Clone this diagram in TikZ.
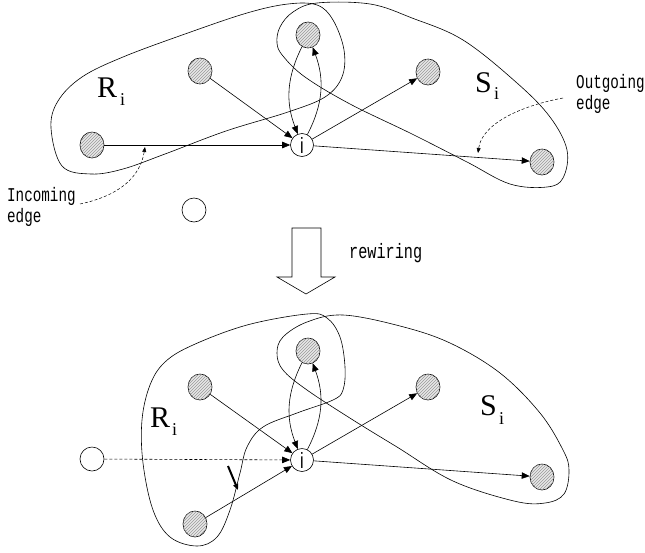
\documentclass[tikz,border=0pt]{standalone}
\usepackage{fontspec}
\setmainfont{Liberation Serif}
\newfontfamily\monof{Liberation Mono}
\newfontfamily\sansf{Liberation Sans}
\newcommand{\tallt}[1]{\scalebox{0.95}[1.3]{#1}}
\usetikzlibrary{arrows.meta,shapes.geometric,patterns}
\begin{document}
\begin{tikzpicture}[x=1pt,y=-1pt,
  hat/.style={ellipse,draw,line width=0.6pt,minimum width=24pt,minimum height=26pt,inner sep=0pt,
    fill=gray!18,postaction={pattern=north east lines,pattern color=gray!80}},
  emptynode/.style={circle,draw,line width=0.6pt,minimum size=24pt,inner sep=0pt},
  inode/.style={circle,draw,line width=0.6pt,minimum size=23pt,inner sep=0pt,font=\sansf\fontsize{17}{17}\selectfont},
  edg/.style={-{Triangle[length=8pt,width=6.5pt]},line width=0.6pt},
  blob/.style={line width=0.6pt,smooth cycle,tension=0.6},
  big/.style={inner sep=0pt,anchor=base west,font=\fontsize{30}{30}\selectfont},
  sub/.style={inner sep=0pt,anchor=base west,font=\fontsize{18}{18}\selectfont},
  mono/.style={inner sep=0pt,align=left,font=\monof\fontsize{15}{21}\selectfont},
  pointer/.style={-{Triangle[length=5pt,width=4pt]},line width=0.5pt,dash pattern=on 3pt off 2pt}
]
\useasboundingbox (0,0) rectangle (645,552);

% ---------- top graph ----------
\draw[blob] plot coordinates {(51,128) (58,101) (82,77) (123,57) (185,34) (247,13) (288,4) (317,5) (333,20) (344,50) (342,77) (325,97) (288,112) (226,131) (165,154) (123,169) (91,174) (62,166)};
\draw[blob] plot coordinates {(317,3) (293,12) (280,27) (277,43) (283,56) (305,77) (350,104) (412,134) (467,162) (510,184) (547,187) (563,178) (567,150) (550,117) (517,83) (463,40) (412,18) (370,4)};

\node[hat] (L1) at (92,145) {};
\node[hat] (ML1) at (200,71) {};
\node[hat] (T1) at (308,35) {};
\node[hat] (RT1) at (428,72) {};
\node[hat] (RB1) at (542,162) {};
\node[inode] (i1) at (302,145) {\tallt{i}};
\node[emptynode] (E1) at (194,210) {};

\draw[edg] (L1) -- (i1);
\draw[edg] (ML1) -- (i1);
\draw[edg] (i1) -- (RT1);
\draw[edg] (i1) -- (RB1);
\draw[edg] (T1) to[bend right=24] (i1);
\draw[edg] (i1) to[bend right=24] (T1);

\node[big] (R1) at (97,97) {R};
\node[sub] (Ri1) at (120,105) {i};
\node[big] (S1) at (475,92) {S};
\node[sub] (Si1) at (494,99) {i};

\node[mono,anchor=west] (inlab) at (7,207) {\tallt{Incoming}\\\tallt{edge}};
\node[mono,anchor=west] (outlab) at (576,94) {\tallt{Outgoing}\\\tallt{edge}};
\coordinate (inS) at (80,204);
\coordinate (inT) at (145,147);
\coordinate (outS) at (563,98);
\coordinate (outT) at (478,153);
\draw[pointer] (inS) .. controls (118,196) and (140,178) .. (inT);
\draw[pointer] (outS) .. controls (520,106) and (482,124) .. (outT);

% ---------- rewiring arrow ----------
\draw[line width=0.6pt] (292,228) -- (321,228) -- (321,277) -- (335,277) -- (306,294) -- (277,277) -- (292,277) -- cycle;
\node[inner sep=0pt,anchor=west,font=\monof\fontsize{16}{16}\selectfont] (rw) at (349,253) {\tallt{rewiring}};

% ---------- bottom graph ----------
\draw[blob] plot coordinates {(307,314) (327,318) (340,337) (345,367) (343,390) (333,400) (297,413) (263,427) (247,447) (240,473) (230,510) (217,537) (197,546) (170,537) (153,510) (143,463) (142,420) (150,385) (165,362) (193,345) (247,325)};
\draw[blob] plot coordinates {(343,315) (307,322) (283,337) (277,353) (283,370) (307,390) (353,420) (397,447) (453,481) (514,501) (545,503) (564,494) (569,470) (563,450) (540,413) (500,373) (450,343) (400,326)};

\node[hat] (ML2) at (200,387) {};
\node[hat] (T2) at (308,351) {};
\node[hat] (RT2) at (428,387) {};
\node[hat] (RB2) at (542,477) {};
\node[hat] (BL2) at (195,524) {};
\node[inode] (i2) at (302,460) {\tallt{i}};
\node[emptynode] (E2) at (92,459) {};

\draw[edg] (ML2) -- (i2);
\draw[edg] (i2) -- (RT2);
\draw[edg] (i2) -- (RB2);
\draw[edg] (BL2) -- (i2);
\draw[edg,dash pattern=on 3pt off 2pt] (E2) -- (i2);
\draw[edg] (T2) to[bend right=24] (i2);
\draw[edg] (i2) to[bend right=24] (T2);

\coordinate (thS) at (228,466);
\coordinate (thT) at (238,490);
\draw[-{Triangle[length=6pt,width=5pt]},line width=2pt] (thS) -- (thT);

\node[big] (R2) at (150,427) {R};
\node[sub] (Ri2) at (172,435) {i};
\node[big] (S2) at (480,415) {S};
\node[sub] (Si2) at (499,424) {i};
\end{tikzpicture}
\end{document}
